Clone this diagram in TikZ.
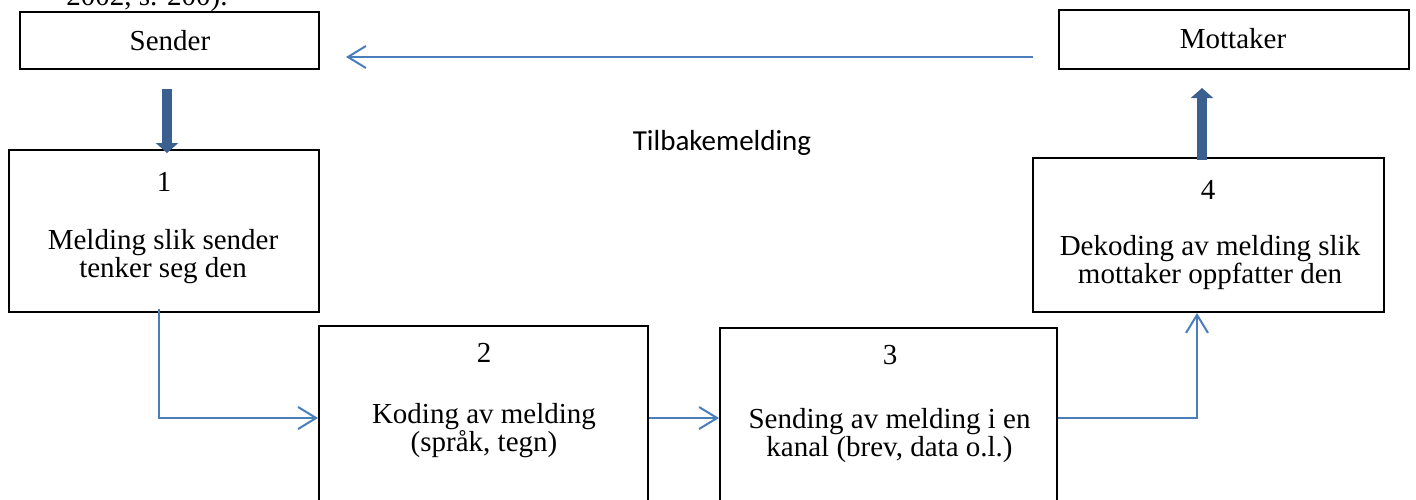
\documentclass[tikz,border=0pt]{standalone}
\usepackage{fontspec}
\setmainfont{Liberation Serif}
\newfontfamily\calibrifont{Carlito}
\usetikzlibrary{arrows.meta}
\definecolor{connblue}{HTML}{4A7EBB}
\definecolor{thickblue}{HTML}{3B5F8E}
\begin{document}
\begin{tikzpicture}[x=0.5pt,y=-0.5pt,
  box/.style={draw=black,line width=1pt,rectangle,inner sep=0pt},
  txt/.style={font=\fontsize{14.5}{14}\selectfont,anchor=base,inner sep=0pt},
  conn/.style={draw=connblue,line width=1pt,-{Straight Barb[length=9pt,width=11pt]}},
  thick/.style={draw=thickblue,line width=5pt,-{Triangle[length=5pt,width=11pt]}}]
\useasboundingbox (0,0) rectangle (1416,499);
\clip (0,0) rectangle (1416,499);
% cut-off text at top
\node[txt] (cite) at (147,5) {2002, s. 200).};
% boxes
\node[box,minimum width=149.5pt,minimum height=28.5pt] (sender) at (169.5,40.5) {};
\node[box,minimum width=175pt,minimum height=29.5pt] (mott) at (1234,39.5) {};
\node[box,minimum width=155pt,minimum height=81pt] (b1) at (164,231) {};
\node[box,minimum width=164.5pt,minimum height=92pt] (b2) at (483.5,418) {};
\node[box,minimum width=168.5pt,minimum height=91pt] (b3) at (888.5,419) {};
\node[box,minimum width=175.5pt,minimum height=77pt] (b4) at (1208.5,235) {};
% texts
\node[txt] (tsender) at (170,50) {Sender};
\node[txt] (tmott) at (1233,48) {Mottaker};
\node[txt,font=\calibrifont\fontsize{14.5}{14}\selectfont] (tfb) at (722,150) {Tilbakemelding};
\node[txt] (n1) at (164,191) {1};
\node[txt] (l1a) at (163,249) {Melding slik sender};
\node[txt] (l1b) at (163,277) {tenker seg den};
\node[txt] (n2) at (484,362) {2};
\node[txt] (l2a) at (484,423) {Koding av melding};
\node[txt] (l2b) at (484,451) {(språk, tegn)};
\node[txt] (n3) at (890,364) {3};
\node[txt] (l3a) at (889.5,428) {Sending av melding i en};
\node[txt] (l3b) at (889.5,456) {kanal (brev, data o.l.)};
\node[txt] (n4) at (1208,199) {4};
\node[txt] (l4a) at (1210,255) {Dekoding av melding slik};
\node[txt] (l4b) at (1210,283) {mottaker oppfatter den};
% coordinates for free ends
\coordinate (fbS) at (1033,57);
\coordinate (fbE) at (346,57);
\coordinate (dS) at (167,89);
\coordinate (dE) at (167,153);
\coordinate (uS) at (1202,160);
\coordinate (uE) at (1202,88);
\coordinate (c1) at (159,309);
\coordinate (t4) at (1197,313);
% connectors
\draw[conn] (fbS) -- (fbE);
\draw[thick] (dS) -- (dE);
\draw[thick] (uS) -- (uE);
\draw[conn] (c1) |- (b2.west);
\draw[conn] (b2.east) -- (b3.west |- b2.east);
\draw[conn] (b3.east |- b2.east) -| (t4);
\end{tikzpicture}
\end{document}
